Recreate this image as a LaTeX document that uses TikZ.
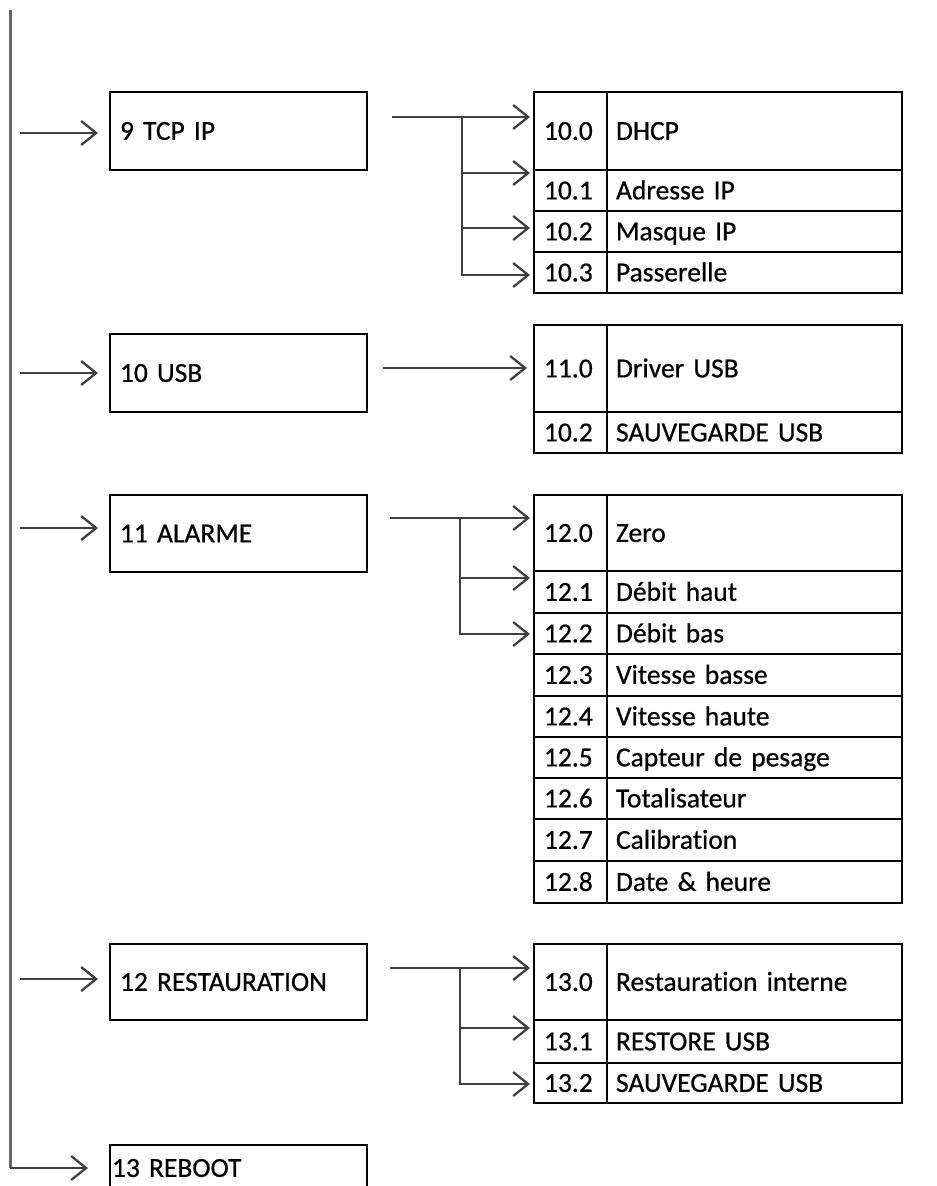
\documentclass[tikz,border=0pt]{standalone}
\usepackage{fontspec}
\setmainfont{Carlito}[RawFeature=-liga, FakeBold=0.6, WordSpace=0.75]
\usetikzlibrary{arrows.meta}
\tikzset{
  txt/.style={font=\fontsize{27.5}{33}\selectfont, text height=17.7pt, text depth=0pt},
  box/.style={txt, draw=black, line width=2.5pt, rectangle, anchor=north west,
    inner ysep=0pt, inner xsep=10pt, outer sep=0pt, align=left, text width=237pt},
  numcell/.style={box, text width=53pt},
  labcell/.style={box, inner xsep=9pt, text width=277pt},
  conn/.style={draw=black!75, line width=2.3pt, -{Straight Barb[length=15pt,width=24pt]}},
  trunk/.style={draw=black!60, line width=3pt},
  tipgap/.style={shorten >=4pt},
}
\newcommand\mytrow[5]{%
  \node[numcell, minimum height=#3pt] (#1n) at (534,#2) {#4};
  \node[labcell, minimum height=#3pt] (#1l) at (607,#2) {#5};
}
\begin{document}
\begin{tikzpicture}[x=1pt,y=-1pt]
\useasboundingbox (0,0) rectangle (937,1186);
\clip (0,0) rectangle (937,1186);

% ---- main boxes
\node[box, minimum height=78pt] (b9)  at (110,92)  {9 TCP IP};
\node[box, minimum height=78pt] (b10) at (110,334) {10 USB};
\node[box, minimum height=77pt] (b11) at (110,495) {11 ALARME};
\node[box, minimum height=76pt] (b12) at (110,944) {12 RESTAURATION};
\node[box, minimum height=46pt, inner xsep=2pt, text width=253pt] (b13) at (110,1145) {13 REBOOT};

% ---- tables
\mytrow{r100}{92}{78}{10.0}{DHCP}
\mytrow{r101}{170}{41}{10.1}{Adresse IP}
\mytrow{r102}{211}{41}{10.2}{Masque IP}
\mytrow{r103}{252}{41}{10.3}{Passerelle}

\mytrow{r110}{325}{87}{11.0}{Driver USB}
\mytrow{r112}{412}{41}{10.2}{SAUVEGARDE USB}

\mytrow{r120}{495}{76}{12.0}{Zero}
\mytrow{r121}{571}{42}{12.1}{Débit haut}
\mytrow{r122}{613}{41}{12.2}{Débit bas}
\mytrow{r123}{654}{42}{12.3}{Vitesse basse}
\mytrow{r124}{696}{41}{12.4}{Vitesse haute}
\mytrow{r125}{737}{41}{12.5}{Capteur de pesage}
\mytrow{r126}{778}{41}{12.6}{Totalisateur}
\mytrow{r127}{819}{42}{12.7}{Calibration}
\mytrow{r128}{861}{42}{12.8}{Date \& heure}

\mytrow{r130}{944}{76}{13.0}{Restauration interne}
\mytrow{r131}{1020}{43}{13.1}{RESTORE USB}
\mytrow{r132}{1063}{40}{13.2}{SAUVEGARDE USB}

% ---- left trunk
\coordinate (top) at (10,10);
\coordinate (bot) at (top |- b13.west);
\draw[trunk] (top) -- (bot);
\draw[conn, shorten >=22pt] (bot) -- (b13.west);

\coordinate (l9)  at (20,133);
\coordinate (l10) at (20,373);
\coordinate (l11) at (20,528);
\coordinate (l12) at (20,979);
\draw[conn, shorten >=12pt] (l9)  -- (l9 -| b9.west);
\draw[conn, shorten >=12pt] (l10) -- (l10 -| b10.west);
\draw[conn, shorten >=12pt] (l11) -- (l11 -| b11.west);
\draw[conn, shorten >=12pt] (l12) -- (l12 -| b12.west);

% ---- right connectors
\coordinate (s9) at (392,117);
\coordinate (j9) at (462,117);
\draw[conn, tipgap] (s9) -- (s9 -| r100n.west);
\draw[conn, tipgap] (j9) |- (r101n.west |- 0,173);
\draw[conn, tipgap] (j9) |- (r102n.west |- 0,228);
\draw[conn, tipgap] (j9) |- (r103n.west |- 0,275);

\coordinate (s10) at (383,368);
\draw[conn, shorten >=7pt] (s10) -- (s10 -| r110n.west);

\coordinate (s11) at (390,518);
\coordinate (j11) at (460,518);
\draw[conn, tipgap] (s11) -- (s11 -| r120n.west);
\draw[conn, tipgap] (j11) |- (r121n.west |- 0,578);
\draw[conn, tipgap] (j11) |- (r122n.west |- 0,634);

\coordinate (s12) at (390,968);
\coordinate (j12) at (460,968);
\draw[conn, tipgap] (s12) -- (s12 -| r130n.west);
\draw[conn, tipgap] (j12) |- (r131n.west |- 0,1028);
\draw[conn, tipgap] (j12) |- (r132n.west |- 0,1084);
\end{tikzpicture}
\end{document}
